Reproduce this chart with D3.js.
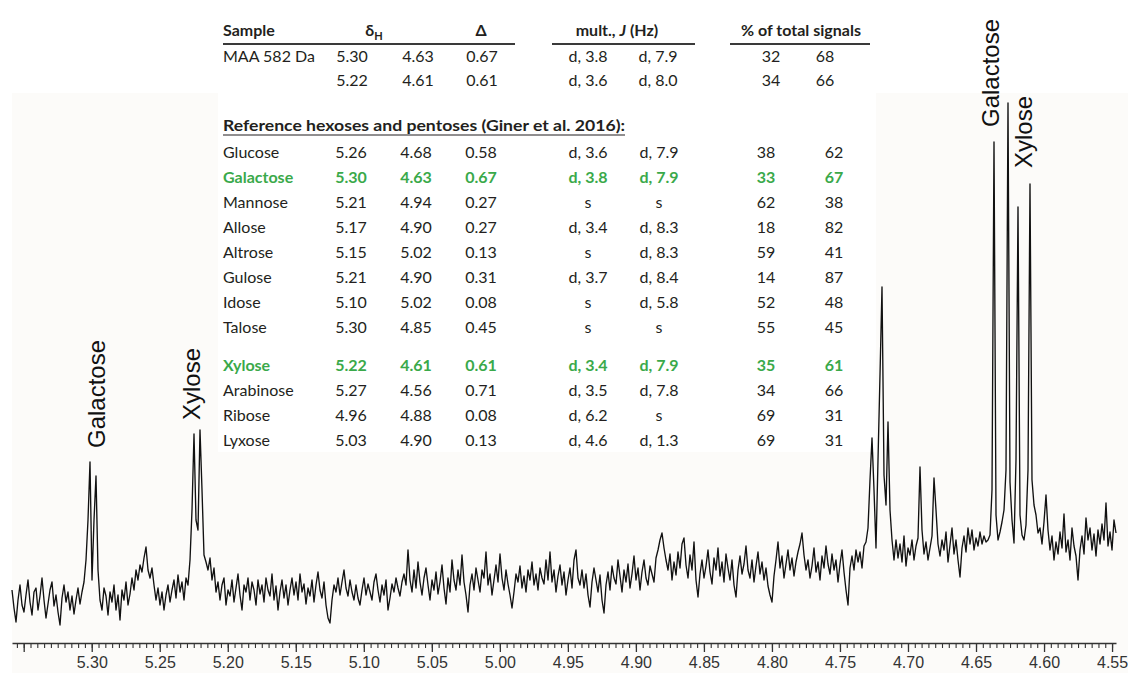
<!DOCTYPE html>
<html>
<head>
<meta charset="utf-8">
<script src="https://cdn.jsdelivr.net/npm/d3@7/dist/d3.min.js"></script>
<style>
  html, body { margin: 0; padding: 0; background: #ffffff; }
  svg { display: block; }
</style>
</head>
<body>
<svg id="chart" width="1128" height="673"></svg>
<script>
// 1H NMR anomeric region of MAA 582 Da, chemical shift (ppm) on the x axis.
const ppmFirst = 5.3586;
const ppmLast = 4.5471;

// Relative intensity (a.u.), one value per digital point from ppmFirst to ppmLast.
const intensity = [
  50, 32, 18, 40, 55, 35, 28, 45, 60, 38,
  25, 48, 52, 30, 44, 62, 40, 22, 36, 50,
  58, 34, 45, 28, 15, 42, 55, 38, 48, 30,
  44, 26, 40, 52, 36, 48, 58, 80, 120, 178,
  60, 120, 164, 70, 40, 30, 52, 44, 25, 48,
  38, 55, 30, 45, 20, 50, 40, 58, 35, 46,
  62, 50, 70, 60, 75, 68, 82, 93, 70, 62,
  72, 55, 40, 52, 35, 48, 30, 45, 55, 38,
  50, 60, 42, 65, 48, 58, 40, 62, 55, 80,
  130, 206, 120, 110, 210, 150, 85, 78, 70, 82,
  60, 72, 48, 58, 40, 55, 62, 35, 50, 44,
  60, 38, 52, 66, 45, 30, 55, 48, 62, 40,
  58, 50, 35, 60, 46, 55, 38, 62, 50, 44,
  66, 40, 54, 30, 48, 60, 42, 55, 35, 50,
  62, 45, 58, 40, 66, 48, 56, 36, 52, 44,
  60, 38, 55, 68, 50, 42, 58, 35, 22, 17,
  40, 55, 48, 62, 45, 58, 70, 52, 44, 60,
  48, 40, 55, 42, 35, 50, 62, 45, 56, 48,
  40, 58, 66, 50, 38, 55, 45, 60, 30, 42,
  56, 48, 62, 52, 44, 58, 66, 55, 90, 60,
  48, 70, 52, 78, 58, 45, 62, 72, 55, 40,
  60, 50, 68, 46, 58, 75, 52, 36, 62, 48,
  80, 60, 50, 70, 55, 85, 58, 45, 28, 55,
  66, 50, 72, 60, 48, 70, 62, 88, 55, 66,
  45, 60, 75, 58, 86, 62, 50, 70, 56, 45,
  32, 48, 66, 58, 74, 52, 64, 48, 70, 60,
  78, 55, 66, 50, 72, 62, 56, 80, 60, 88,
  58, 70, 48, 64, 75, 55, 68, 45, 60, 72,
  52, 80, 90, 62, 55, 70, 52, 66, 45, 33,
  58, 72, 60, 48, 65, 40, 27, 55, 68, 50,
  74, 62, 56, 80, 64, 48, 70, 58, 76, 52,
  66, 84, 60, 72, 50, 68, 80, 62, 55, 74,
  66, 58, 82, 90, 100, 107, 92, 80, 70, 86,
  60, 78, 65, 88, 72, 96, 102, 75, 62, 85,
  70, 98, 60, 43, 66, 80, 62, 74, 90, 68,
  56, 82, 70, 92, 64, 78, 58, 86, 72, 60,
  80, 55, 43, 70, 84, 66, 76, 94, 70, 62,
  80, 58, 74, 88, 66, 78, 60, 72, 54, 45,
  38, 64, 80, 98, 72, 84, 62, 76, 90, 70,
  82, 64, 78, 88, 96, 107, 85, 70, 80, 62,
  74, 92, 68, 78, 60, 84, 72, 94, 76, 66,
  86, 70, 80, 58, 76, 90, 68, 50, 35, 72,
  84, 70, 90, 78, 88, 72, 94, 98, 112, 160,
  202, 150, 92, 180, 265, 353, 165, 135, 218, 130,
  100, 80, 100, 82, 96, 78, 104, 74, 92, 85,
  100, 80, 94, 102, 173, 110, 86, 98, 80, 92,
  104, 162, 130, 96, 84, 100, 90, 108, 78, 95,
  112, 86, 100, 80, 63, 92, 104, 88, 112, 96,
  110, 90, 102, 94, 108, 96, 104, 98, 100, 105,
  150, 498, 125, 100, 108, 118, 130, 170, 537, 158,
  120, 97, 180, 433, 125, 105, 100, 115, 170, 456,
  160, 135, 125, 107, 112, 96, 118, 145, 110, 90,
  104, 80, 98, 86, 108, 92, 126, 88, 100, 80,
  112, 94, 84, 60, 90, 104, 86, 122, 100, 112,
  90, 106, 84, 110, 96, 116, 100, 137, 94, 108,
  90, 120, 107
];

// Axis ticks
const majorTicks = [5.35, 5.30, 5.25, 5.20, 5.15, 5.10, 5.05, 5.00, 4.95, 4.90, 4.85, 4.80, 4.75, 4.70, 4.65, 4.60, 4.55];
const labelledTicks = [5.30, 5.25, 5.20, 5.15, 5.10, 5.05, 5.00, 4.95, 4.90, 4.85, 4.80, 4.75, 4.70, 4.65, 4.60, 4.55];
const minorStep = 0.005;

// Peak assignments written over the spectrum
const peakNames = ["Galactose", "Xylose", "Galactose", "Xylose"];
const peakPpm = [5.297, 5.224, 4.637, 4.617];

// Sample table
const sampleHeader = ["Sample", "δH", "Δ", "mult., J (Hz)", "% of total signals"];
const sampleRows = [
  ["MAA 582 Da", "5.30", "4.63", "0.67", "d, 3.8", "d, 7.9", "32", "68"],
  ["", "5.22", "4.61", "0.61", "d, 3.6", "d, 8.0", "34", "66"]
];

// Reference monosaccharides
const referenceTitle = "Reference hexoses and pentoses (Giner et al. 2016):";
const hexoseRows = [
  ["Glucose", "5.26", "4.68", "0.58", "d, 3.6", "d, 7.9", "38", "62"],
  ["Galactose", "5.30", "4.63", "0.67", "d, 3.8", "d, 7.9", "33", "67"],
  ["Mannose", "5.21", "4.94", "0.27", "s", "s", "62", "38"],
  ["Allose", "5.17", "4.90", "0.27", "d, 3.4", "d, 8.3", "18", "82"],
  ["Altrose", "5.15", "5.02", "0.13", "s", "d, 8.3", "59", "41"],
  ["Gulose", "5.21", "4.90", "0.31", "d, 3.7", "d, 8.4", "14", "87"],
  ["Idose", "5.10", "5.02", "0.08", "s", "d, 5.8", "52", "48"],
  ["Talose", "5.30", "4.85", "0.45", "s", "s", "55", "45"]
];
const pentoseRows = [
  ["Xylose", "5.22", "4.61", "0.61", "d, 3.4", "d, 7.9", "35", "61"],
  ["Arabinose", "5.27", "4.56", "0.71", "d, 3.5", "d, 7.8", "34", "66"],
  ["Ribose", "4.96", "4.88", "0.08", "d, 6.2", "s", "69", "31"],
  ["Lyxose", "5.03", "4.90", "0.13", "d, 4.6", "d, 1.3", "69", "31"]
];
const highlighted = ["Galactose", "Xylose"];

const svg = d3.select("#chart");
const W = 1128, H = 673;
const TEXT = "#231f20", GREEN = "#3aa94a";
const tableFont = "Lato, 'Open Sans', 'Noto Sans', sans-serif";
const axisFont = "'Liberation Sans', Arial, Helvetica, sans-serif";

// Panel backgrounds
svg.append("rect").attr("x", 0).attr("y", 0).attr("width", W).attr("height", H).attr("fill", "#ffffff");
svg.append("rect").attr("x", 12).attr("y", 93).attr("width", W - 12).attr("height", H - 93).attr("fill", "#fcfbf9");
svg.append("rect").attr("x", 218).attr("y", 93).attr("width", 658).attr("height", 359).attr("fill", "#ffffff");

// Scales
const n = intensity.length;
const ppm = intensity.map((_, i) => ppmFirst + (ppmLast - ppmFirst) * i / (n - 1));
const x = d3.scaleLinear().domain([ppmFirst, ppmLast]).range([12, 1116]);
const y = d3.scaleLinear().domain([0, 540]).range([640, 100]);

// Axis: minor ticks, then major ticks with labels
const axisY = 643;
const minorTicks = d3.range(Math.round((ppmFirst - 4.55) / minorStep) + 1).map(k => +(4.55 + k * minorStep).toFixed(3))
  .filter(v => v <= ppmFirst && v >= ppmLast);

const gMinor = svg.append("g").attr("transform", `translate(0,${axisY})`)
  .call(d3.axisBottom(x).tickValues(minorTicks).tickSize(5).tickSizeOuter(0).tickFormat(""));
gMinor.select(".domain").attr("stroke", "#333").attr("stroke-width", 1.6);
gMinor.selectAll(".tick line").attr("stroke", "#333").attr("stroke-width", 1.1);

const gMajor = svg.append("g").attr("transform", `translate(0,${axisY})`)
  .call(d3.axisBottom(x).tickValues(majorTicks).tickSize(9).tickSizeOuter(0)
    .tickFormat(d => labelledTicks.some(t => Math.abs(t - d) < 1e-9) ? d3.format(".2f")(d) : ""));
gMajor.select(".domain").remove();
gMajor.selectAll(".tick line").attr("stroke", "#333").attr("stroke-width", 1.3);
gMajor.selectAll(".tick text")
  .attr("font-family", axisFont).attr("font-size", 16).attr("fill", "#333")
  .attr("y", 14).attr("dy", "0.71em");

// Spectrum trace
const line = d3.line()
  .x((d, i) => x(ppm[i]))
  .y(d => y(d));
svg.append("path")
  .datum(intensity)
  .attr("d", line)
  .attr("fill", "none")
  .attr("stroke", "#111111")
  .attr("stroke-width", 1.35)
  .attr("stroke-linejoin", "round");

// Peak labels, rotated
const labelOffsets = [
  { dx: 9, y: 448 },
  { dx: 5, y: 420 },
  { dx: 5, y: 127 },
  { dx: 11, y: 168 }
];
peakNames.forEach((name, i) => {
  const bx = x(peakPpm[i]) + labelOffsets[i].dx;
  svg.append("text")
    .attr("transform", `translate(${bx},${labelOffsets[i].y}) rotate(-90)`)
    .attr("font-family", axisFont)
    .attr("font-size", 24)
    .attr("fill", "#111")
    .text(name);
});

// Table
const table = svg.append("g").attr("font-family", tableFont).attr("font-size", 16).attr("fill", TEXT);

// Header
const hdrY = 36;
table.append("text").attr("x", 223).attr("y", hdrY).attr("font-weight", 700).text(sampleHeader[0]);
const dH = table.append("text").attr("x", 374).attr("y", hdrY).attr("text-anchor", "middle").attr("font-weight", 700);
dH.append("tspan").text("δ");
dH.append("tspan").attr("font-size", 11).attr("dy", 4).text("H");
table.append("text").attr("x", 481).attr("y", hdrY).attr("text-anchor", "middle").attr("font-weight", 700).text(sampleHeader[2]);
const jt = table.append("text").attr("x", 617).attr("y", hdrY).attr("text-anchor", "middle").attr("font-weight", 700);
jt.append("tspan").text("mult., ");
jt.append("tspan").attr("font-style", "italic").text("J");
jt.append("tspan").text(" (Hz)");
table.append("text").attr("x", 801).attr("y", hdrY).attr("text-anchor", "middle").attr("font-weight", 700).text(sampleHeader[4]);

[[223, 515], [552, 695], [730, 870]].forEach(([a, b]) => {
  table.append("line").attr("x1", a).attr("x2", b).attr("y1", 44).attr("y2", 44)
    .attr("stroke", "#3a3a3a").attr("stroke-width", 2);
});

function drawRow(row, baseline, cols, color, bold) {
  const g = table.append("g").attr("fill", color).attr("font-weight", bold ? 700 : 400);
  g.append("text").attr("x", 223).attr("y", baseline).text(row[0]);
  row.slice(1).forEach((v, k) => {
    g.append("text").attr("x", cols[k]).attr("y", baseline).attr("text-anchor", "middle").text(v);
  });
}

const sampleCols = [352, 418, 482, 588, 658, 771, 825];
sampleRows.forEach((r, i) => drawRow(r, 62 + 24 * i, sampleCols, TEXT, false));

// Reference title, underlined
table.append("text").attr("x", 223).attr("y", 131).attr("font-weight", 700)
  .attr("textLength", 402).attr("lengthAdjust", "spacingAndGlyphs").text(referenceTitle);
table.append("line").attr("x1", 223).attr("x2", 625).attr("y1", 135).attr("y2", 135)
  .attr("stroke", TEXT).attr("stroke-width", 1.2);

const refCols = [351, 416, 481, 588, 659, 766, 834];
hexoseRows.forEach((r, i) => {
  const hl = highlighted.includes(r[0]);
  drawRow(r, 158 + 25 * i, refCols, hl ? GREEN : TEXT, hl);
});
pentoseRows.forEach((r, i) => {
  const hl = highlighted.includes(r[0]);
  drawRow(r, 371 + 25 * i, refCols, hl ? GREEN : TEXT, hl);
});
</script>
</body>
</html>
